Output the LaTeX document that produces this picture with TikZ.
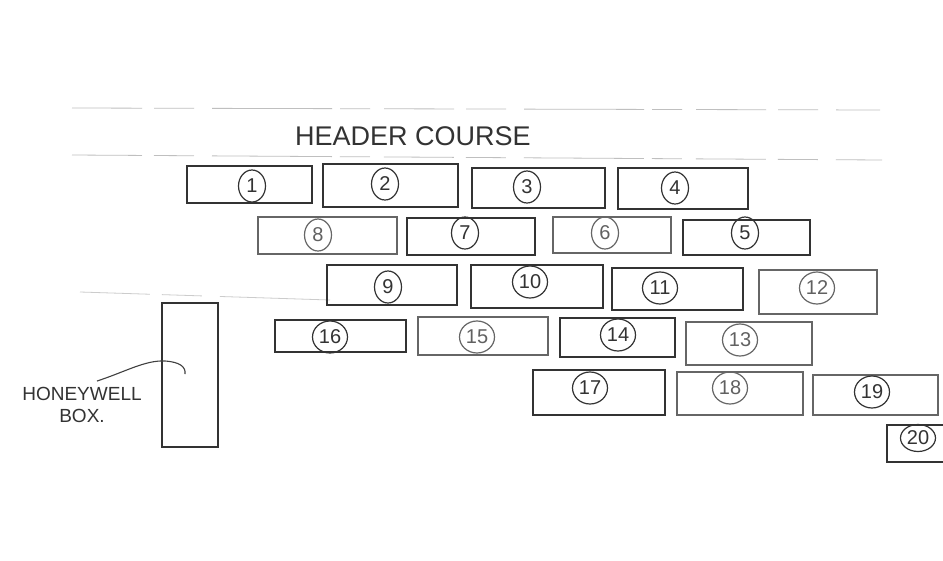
\documentclass[tikz,border=0pt]{standalone}
\usepackage{fontspec}
\setmainfont{Liberation Sans}
\usetikzlibrary{shapes.geometric}
\begin{document}
\begin{tikzpicture}[x=1pt,y=-1pt,
  brick/.style={draw=black!80,line width=1.6pt,rectangle,inner sep=0pt},
  lbrick/.style={brick,draw=black!60,line width=1.3pt},
  num/.style={draw=black!80,line width=1.2pt,ellipse,inner sep=0pt,minimum width=27pt,minimum height=32pt,font=\fontsize{20}{20}\selectfont,text=black!80},
  lnum/.style={num,draw=black!60,text=black!62},
  guide/.style={draw=black!25,line width=0.8pt,dash pattern=on 70pt off 12pt on 40pt off 18pt on 120pt off 8pt on 30pt off 14pt},
  hand/.style={text=black!80,font=\fontsize{27}{27}\selectfont}]
\clip (0,0) rectangle (943,560);
\fill[white] (0,0) rectangle (943,560);
% header guide lines
\coordinate (g1a) at (72,108); \coordinate (g1b) at (880,110);
\coordinate (g2a) at (72,155); \coordinate (g2b) at (882,160);
\coordinate (g3a) at (80,292); \coordinate (g3b) at (330,300);
\draw[guide] (g1a) -- (g1b);
\draw[guide] (g2a) -- (g2b);
\draw[guide,draw=black!20] (g3a) -- (g3b);
\node[hand] (header) at (413,136) {HEADER COURSE};
% row 1
\node[brick,minimum width=125pt,minimum height=37pt] (b1) at (249.5,184.5) {};
\node[brick,minimum width=135pt,minimum height=43pt] (b2) at (390.5,185.5) {};
\node[brick,minimum width=133pt,minimum height=40pt] (b3) at (538.5,188) {};
\node[brick,minimum width=130pt,minimum height=41pt] (b4) at (683,188.5) {};
% row 2
\node[lbrick,minimum width=139pt,minimum height=37pt] (b8) at (327.5,235.5) {};
\node[brick,minimum width=128pt,minimum height=37pt] (b7) at (471,236.5) {};
\node[lbrick,minimum width=118pt,minimum height=36pt] (b6) at (612,235) {};
\node[brick,minimum width=127pt,minimum height=35pt] (b5) at (746.5,237.5) {};
% row 3
\node[brick,minimum width=130pt,minimum height=40pt] (b9) at (392,285) {};
\node[brick,minimum width=132pt,minimum height=43pt] (b10) at (537,286.5) {};
\node[brick,minimum width=131pt,minimum height=42pt] (b11) at (677.5,289) {};
\node[lbrick,minimum width=118pt,minimum height=44pt] (b12) at (818,292) {};
% row 4
\node[brick,minimum width=131pt,minimum height=32pt] (b16) at (340.5,336) {};
\node[lbrick,minimum width=130pt,minimum height=38pt] (b15) at (483,336) {};
\node[brick,minimum width=115pt,minimum height=39pt] (b14) at (617.5,337.5) {};
\node[lbrick,minimum width=126pt,minimum height=43pt] (b13) at (749,343.5) {};
% row 5
\node[brick,minimum width=132pt,minimum height=45pt] (b17) at (599,392.5) {};
\node[lbrick,minimum width=126pt,minimum height=43pt] (b18) at (740,393.5) {};
\node[lbrick,minimum width=125pt,minimum height=40pt] (b19) at (875.5,395) {};
% row 6
\node[brick,minimum width=68pt,minimum height=37pt] (b20) at (921,443.5) {};
% numbers
\node[num] (n1) at (252,186) {1};
\node[num] (n2) at (385,184) {2};
\node[num] (n3) at (527,187) {3};
\node[num] (n4) at (675,188) {4};
\node[lnum] (n8) at (318,235) {8};
\node[num] (n7) at (465,233) {7};
\node[lnum] (n6) at (605,233) {6};
\node[num] (n5) at (745,233) {5};
\node[num] (n9) at (388,287) {9};
\node[num,minimum width=35pt] (n10) at (530,282) {10};
\node[num,minimum width=35pt] (n11) at (660,288) {11};
\node[lnum,minimum width=35pt] (n12) at (817,288) {12};
\node[num,minimum width=35pt] (n16) at (330,337) {16};
\node[lnum,minimum width=35pt] (n15) at (477,337) {15};
\node[num,minimum width=35pt] (n14) at (618,335) {14};
\node[lnum,minimum width=35pt] (n13) at (740,340) {13};
\node[num,minimum width=35pt] (n17) at (590,388) {17};
\node[lnum,minimum width=35pt] (n18) at (730,388) {18};
\node[num,minimum width=35pt] (n19) at (872,392) {19};
\node[num,minimum width=35pt,minimum height=27pt] (n20) at (918,438) {20};
% honeywell box
\node[brick,minimum width=56pt,minimum height=144pt] (hwbox) at (190,375) {};
\node[text=black!80,font=\fontsize{19}{22}\selectfont,align=center] (hwlabel) at (82,405) {HONEYWELL\\BOX.};
\coordinate (hwstart) at (97,381);
\coordinate (hwend) at (185,374);
\draw[black!75,line width=1.1pt] (hwstart) .. controls (125,372) and (145,360) .. (165,361) .. controls (180,362) and (186,367) .. (hwend);
\end{tikzpicture}
\end{document}
